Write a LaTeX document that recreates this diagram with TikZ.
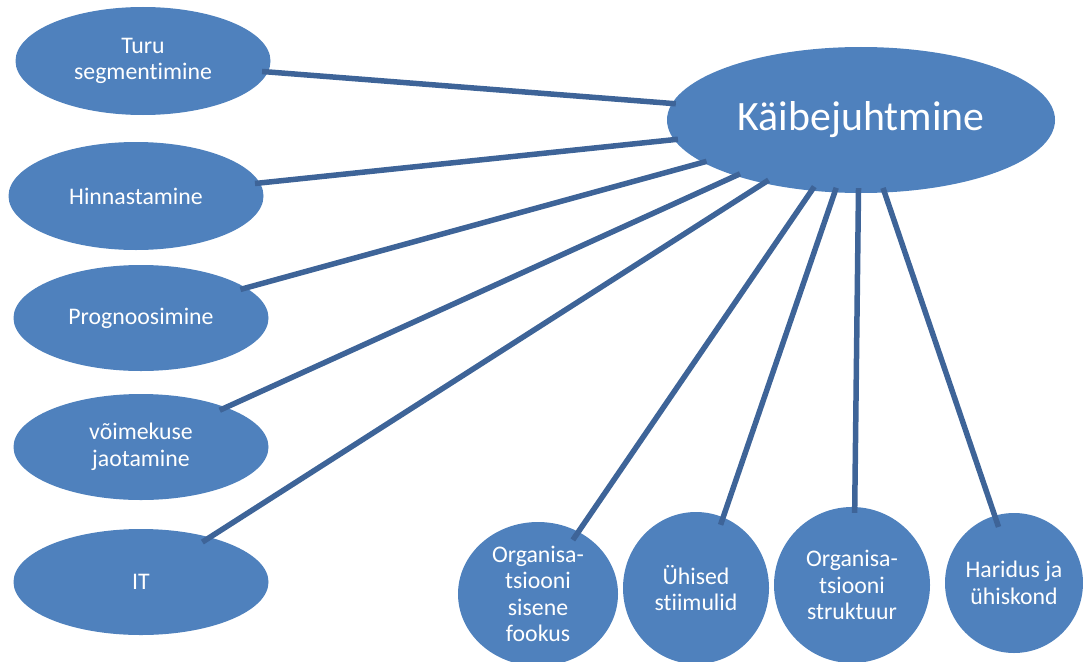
\documentclass[tikz,border=0pt]{standalone}
\usepackage{fontspec}
\setmainfont{Carlito}[Ligatures={NoCommon}]
\usetikzlibrary{shapes.geometric}
\definecolor{nodeblue}{HTML}{4F81BD}
\definecolor{linkblue}{HTML}{3E6498}
\begin{document}
\begin{tikzpicture}[x=1pt,y=-1pt,
  bubble/.style={ellipse, fill=nodeblue, text=white, inner sep=0pt, align=center,
    font=\fontsize{23.8}{26.5}\selectfont},
  sidebubble/.style={bubble, minimum width=255pt, minimum height=106pt},
  link/.style={draw=linkblue, line width=5.5pt}]
\useasboundingbox (0,0) rectangle (1083,661);
% central node
\node[bubble, minimum width=388pt, minimum height=146pt,
  font=\fontsize{41.8}{48}\selectfont] (kaibe) at (861,120) {Käibejuhtmine};
% left column
\node[sidebubble, minimum height=108pt] (turu) at (143,61) {Turu\\segmentimine};
\node[sidebubble, minimum height=108pt] (hinn) at (136,196) {Hinnastamine};
\node[sidebubble] (progn) at (141,318) {Prognoosimine};
\node[sidebubble] (voim) at (141,447) {võimekuse\\jaotamine};
\node[sidebubble] (it) at (141,582) {IT};
% bottom row
\node[bubble, minimum width=160pt, minimum height=144pt] (c1) at (538,594) {Organisa-\\tsiooni\\sisene\\fookus};
\node[bubble, minimum width=146pt, minimum height=152pt] (c2) at (696,588) {Ühised\\stiimulid};
\node[bubble, minimum width=156pt, minimum height=156pt] (c3) at (852,585) {Organisa-\\tsiooni\\struktuur};
\node[bubble, minimum width=138pt, minimum height=140pt] (c4) at (1014,583) {Haridus ja\\ühiskond};
% connectors
\draw[link, shorten <=-6pt, shorten >=-4pt] (turu.355.2) -- (kaibe.175);
\draw[link, shorten <=-5pt, shorten >=-4pt] (hinn.6.1) -- (kaibe.186);
\draw[link, shorten <=-6pt, shorten >=-4pt] (progn.16.1) -- (kaibe.195.6);
\draw[link, shorten <=-7pt, shorten >=-5pt] (voim.25.05) -- (kaibe.204.2);
\draw[link, shorten <=-9pt, shorten >=-6pt] (it.33.5) -- (kaibe.213);
\draw[link, shorten <=-10pt, shorten >=-5pt] (c1.57.2) -- (kaibe.235.8);
\draw[link, shorten <=-8pt, shorten >=-5pt] (c2.69.8) -- (kaibe.250);
\draw[link, shorten <=-6pt, shorten >=-5pt] (c3.88.6) -- (kaibe.268.5);
\draw[link, shorten <=-12pt, shorten >=-5pt] (c4.106.2) -- (kaibe.288.7);
\end{tikzpicture}
\end{document}
